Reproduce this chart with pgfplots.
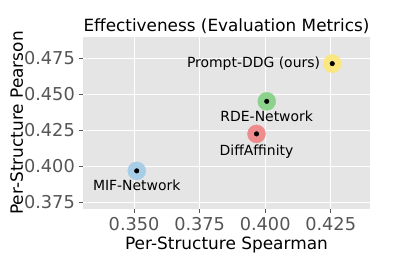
\documentclass[border=0pt]{standalone}
\usepackage{pgfplots}
\pgfplotsset{compat=1.18}
\usepackage{fontspec}
\setmainfont{DejaVu Sans}
\definecolor{panelbg}{HTML}{E5E5E5}
\definecolor{ticktext}{HTML}{555555}
\definecolor{cY}{HTML}{FCE680}
\definecolor{cG}{HTML}{8CD28C}
\definecolor{cR}{HTML}{EE8C8C}
\definecolor{cB}{HTML}{A8CDE6}
\begin{document}
\begin{tikzpicture}
\useasboundingbox (-83bp,-62bp) rectangle (324bp,209bp);
\begin{axis}[
  at={(0,0)}, anchor=south west,
  scale only axis, width=287bp, height=172bp,
  xmin=0.3305, xmax=0.4400, ymin=0.3703, ymax=0.4898,
  axis background/.style={fill=panelbg},
  axis line style={draw=none},
  grid=major, major grid style={white, line width=0.9pt},
  xtick={0.350,0.375,0.400,0.425},
  ytick={0.375,0.400,0.425,0.450,0.475},
  tick align=outside, tick pos=left,
  major tick length=4bp,
  tick style={ticktext, line width=0.7pt},
  /pgf/number format/assume math mode=true,
  /pgf/number format/.cd, fixed, fixed zerofill, precision=3, /pgfplots/.cd,
  ticklabel style={font=\fontsize{17.8}{20}\selectfont, text=ticktext, inner sep=0pt},
  yticklabel style={anchor=east, xshift=-4bp},
  xticklabel style={anchor=north, yshift=-4bp},
  xlabel={Per-Structure Spearman},
  ylabel={Per-Structure Pearson},
  label style={font=\fontsize{17}{19}\selectfont, inner sep=0pt},
  xlabel style={at={(axis description cs:0.5,0)}, anchor=base, yshift=-40bp},
  ylabel style={at={(axis description cs:0,0.5)}, anchor=base, yshift=60bp},
  title={Effectiveness (Evaluation Metrics)},
  title style={font=\fontsize{16.9}{19}\selectfont, at={(axis description cs:0.5,1)}, anchor=base, inner sep=0pt},
  clip=false,
]
\addplot[only marks, mark=*, mark size=9bp, color=cB] coordinates {(0.351,0.3968)};
\addplot[only marks, mark=*, mark size=9bp, color=cR] coordinates {(0.3967,0.4225)};
\addplot[only marks, mark=*, mark size=9bp, color=cG] coordinates {(0.4006,0.4451)};
\addplot[only marks, mark=*, mark size=9bp, color=cY] coordinates {(0.4256,0.4713)};
\addplot[only marks, mark=*, mark size=2.3bp, color=black] coordinates {
(0.351,0.3968) (0.3967,0.4225) (0.4006,0.4451) (0.4256,0.4713)};
\node[anchor=base east, inner sep=0pt, font=\fontsize{14}{16}\selectfont] at ([xshift=-12bp,yshift=-4bp]axis cs:0.4256,0.4713) {Prompt-DDG (ours)};
\node[anchor=base, inner sep=0pt, font=\fontsize{14}{16}\selectfont] at ([yshift=-20bp]axis cs:0.4006,0.4451) {RDE-Network};
\node[anchor=base, inner sep=0pt, font=\fontsize{14}{16}\selectfont] at ([yshift=-21.5bp]axis cs:0.3967,0.4225) {DiffAffinity};
\node[anchor=base, inner sep=0pt, font=\fontsize{14}{16}\selectfont] at ([yshift=-20bp]axis cs:0.351,0.3968) {MIF-Network};
\end{axis}
\end{tikzpicture}
\end{document}
